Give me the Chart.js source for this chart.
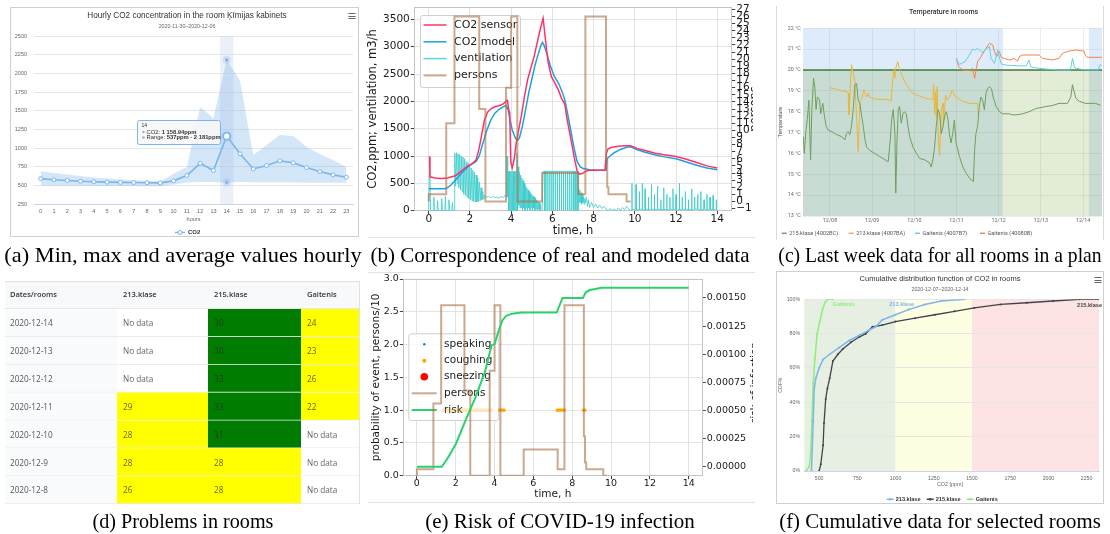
<!DOCTYPE html>
<html>
<head>
<meta charset="utf-8">
<title>Indoor climate monitoring figures</title>
<script src="https://cdn.jsdelivr.net/npm/chart.js@4.4.1/dist/chart.umd.min.js"></script>
<style>
  html, body { margin: 0; padding: 0; background: #fff; }
  body { position: relative; width: 1110px; height: 534px; overflow: hidden; }
  .abs { position: absolute; display: block; }
  .frame { position: absolute; box-sizing: border-box; pointer-events: none; }
  .cap { position: absolute; transform: translateX(-50%); white-space: nowrap;
         font-family: "Liberation Serif", "Times New Roman", serif; font-size: 21px; line-height: 21px; color: #000; }
</style>
</head>
<body>

<div class="frame" style="left:10px;top:7px;width:349px;height:230px;border:1px solid #cfcfcf;"></div>
<canvas id="chartA" class="abs" width="347" height="228" style="left:11px;top:8px"></canvas>

<canvas id="chartB" class="abs" width="388" height="240" style="left:365px;top:0px"></canvas>
<div class="frame" style="left:368px;top:237px;width:387px;height:1px;background:#e2e2e2"></div>

<div class="frame" style="left:776px;top:6px;width:328px;height:234px;border-left:1px solid #dadada;border-right:1px solid #dadada"></div>
<canvas id="chartC" class="abs" width="330" height="240" style="left:775px;top:0px"></canvas>

<canvas id="chartD" class="abs" width="355" height="223" style="left:5px;top:281px"></canvas>
<div class="frame" style="left:5px;top:281px;width:355px;height:223px;border-top:1px solid #dee2e6;border-right:1px solid #dee2e6"></div>

<canvas id="chartE" class="abs" width="388" height="245" style="left:365px;top:265px"></canvas>
<div class="frame" style="left:368px;top:272px;width:387px;height:1px;background:#e2e2e2"></div>
<div class="frame" style="left:368px;top:502px;width:387px;height:1px;background:#e2e2e2"></div>

<div class="frame" style="left:776px;top:271px;width:328px;height:233px;border:1px solid #cfcfcf"></div>
<canvas id="chartF" class="abs" width="326" height="231" style="left:777px;top:272px"></canvas>

<div class="cap" style="left:183px;top:245px;transform:translateX(-50%) scaleX(1.066)">(a) Min, max and average values hourly</div>
<div class="cap" style="left:560px;top:245px">(b) Correspondence of real and modeled data</div>
<div class="cap" style="left:940px;top:245px;transform:translateX(-50%) scaleX(0.935)">(c) Last week data for all rooms in a plan</div>
<div class="cap" style="left:183px;top:511px;transform:translateX(-50%) scaleX(0.96)">(d) Problems in rooms</div>
<div class="cap" style="left:560px;top:511px">(e) Risk of COVID-19 infection</div>
<div class="cap" style="left:940px;top:511px;transform:translateX(-50%) scaleX(0.99)">(f) Cumulative data for selected rooms</div>

<script>
// ---------- (a) hourly CO2, one week ----------
const hourLabels = ['0','1','2','3','4','5','6','7','8','9','10','11','12','13','14','15','16','17','18','19','20','21','22','23'];
const co2Avg = [590,575,565,555,548,543,540,537,535,533,560,632,795,698,1158.94,922,720,765,828,802,738,685,640,608];
const co2Min = [497,495,494,493,492,491,490,490,489,489,512,538,543,545,537,545,540,540,540,538,536,535,535,535];
const co2Max = [688,665,645,625,605,590,578,568,560,552,655,745,1548,1400,2181,1905,905,1040,1175,1162,1018,920,840,745];
const co2HourTicks = [250,500,750,1000,1250,1500,1750,2000,2250,2500];
const hoverHour = 14;

// ---------- (b) measured vs modelled CO2 ----------
const sensorT = [0,0.04,0.06,0.3,0.6,0.9,1.1,1.3,1.5,1.7,1.9,2.1,2.3,2.45,2.55,2.7,2.85,3.0,3.2,3.4,3.6,3.75,3.82,3.88,3.93,3.98,4.05,4.15,4.25,4.35,4.5,4.65,4.8,4.95,5.1,5.25,5.4,5.5,5.55,5.6,5.7,5.8,5.95,6.1,6.3,6.45,6.6,6.7,6.8,6.9,7.0,7.1,7.2,7.3,7.45,7.6,7.8,8.2,8.55,8.62,8.7,8.9,9.2,9.5,9.8,10.1,10.5,11.0,11.5,12.0,12.5,13.0,13.5,14.0];
const sensorPpm = [980,980,620,600,590,600,620,640,700,760,820,860,930,1150,1350,1650,1800,1860,1900,1920,1950,2000,2020,1850,1800,900,780,950,1250,1450,1750,2100,2400,2600,2800,3050,3300,3450,3520,3350,3000,2700,2450,2350,2200,2050,1950,1700,1500,1300,1100,900,730,670,680,720,740,740,740,1050,1130,1160,1180,1190,1190,1140,1100,1050,1020,990,940,880,820,780];
const modelT = [0,0.8,0.95,1.1,1.3,1.5,1.7,1.9,2.1,2.3,2.45,2.6,2.8,3.0,3.2,3.4,3.6,3.75,3.85,3.95,4.05,4.2,4.3,4.4,4.55,4.7,4.85,5.0,5.15,5.3,5.45,5.52,5.6,5.75,5.9,6.1,6.3,6.5,6.6,6.75,6.9,7.05,7.2,7.35,7.5,7.8,8.2,8.6,8.65,8.8,9.0,9.3,9.6,9.8,10.1,10.5,11.0,11.5,12.0,12.5,13.0,13.5,14.0];
const modelPpm = [400,400,430,480,560,650,730,800,850,900,1000,1200,1450,1650,1780,1850,1900,1920,1850,1650,1480,1330,1280,1330,1550,1850,2150,2400,2650,2850,3030,3080,3020,2850,2650,2450,2330,2150,2030,1750,1450,1150,900,800,770,750,740,740,950,1000,1060,1120,1160,1170,1120,1070,1020,980,950,890,830,780,750];

// ventilation, m3/h
const ventStartT = [0,0.03,0.06,0.09,0.22,0.25,0.28,0.4,0.43,0.46,0.6,0.63,0.66,0.78,0.81,0.84,0.95,0.98,1.01,1.12,1.15,1.18,1.24];
const ventStartV = [0,720,700,0,0,250,0,0,180,0,0,220,0,0,260,0,0,200,0,0,150,0,0];
const ventRiseT = [1.26,1.30,1.34,1.38,1.42,1.46,1.50,1.54,1.58,1.62,1.66,1.70,1.74,1.78,1.82,1.86,1.90,1.94,1.98,2.02,2.06,2.10,2.14,2.18,2.22,2.26,2.30,2.34,2.38,2.42,2.46,2.50,2.54,2.58,2.62,2.66,2.70,2.80,2.90,3.00,3.10,3.20,3.30,3.40,3.50,3.60,3.70,3.75];
const ventRiseV = [1050,450,1060,500,1040,420,1030,380,1000,350,980,300,950,280,900,250,880,220,820,200,780,180,740,170,700,160,650,160,600,170,520,180,420,200,350,210,280,240,270,230,260,240,250,230,260,240,280,250];
const ventBreakT = [3.78,3.80,3.83,3.86,3.89,3.92,3.95,3.98,4.01,4.04,4.07,4.10,4.13,4.16,4.19,4.22,4.25,4.28,4.31,4.34,4.37,4.40,4.43,4.46,4.49,4.52,4.55,4.58,4.61,4.64,4.67,4.70,4.73,4.76,4.79,4.82,4.85,4.88,4.91,4.94,4.97,5.00,5.03,5.06,5.09,5.12,5.15,5.18,5.21,5.24,5.27,5.30,5.33,5.36,5.39,5.42,5.45,5.50];
const ventBreakV = [300,1000,250,720,0,720,0,720,0,720,0,720,0,720,0,720,0,1060,0,800,100,700,50,650,50,600,0,550,50,500,0,450,50,420,0,380,50,350,0,320,50,300,0,270,50,250,0,220,30,200,0,170,30,150,0,120,0,0];
const ventPulseT = [5.55,5.635,5.64,5.65,5.735,5.74,5.75,5.835,5.84,5.85,5.935,5.94,5.95,6.035,6.04,6.05,6.135,6.14,6.15,6.235,6.24,6.25,6.335,6.34,6.35,6.435,6.44,6.45,6.535,6.54,6.55,6.635,6.64,6.65,6.735,6.74,6.75,6.835,6.84,6.85,6.935,6.94,6.95,7.035,7.04,7.05,7.135,7.14,7.15,7.235,7.24];
const ventPulseV = [720,720,0,720,720,0,720,720,0,720,720,0,720,720,0,720,720,0,720,720,0,720,720,0,720,720,0,720,720,0,720,720,0,720,720,0,720,720,0,720,720,0,720,720,0,720,720,0,720,720,0];
const ventLowT = [7.27,7.30,7.33,7.36,7.39,7.42,7.45,7.48,7.51,7.54,7.57,7.60,7.65,7.70,7.75,7.80,7.90,8.00,8.10,8.20,8.30,8.40,8.50,8.60,8.70,8.80,8.90,9.00,9.10,9.20,9.30,9.40,9.50,9.60,9.70,9.80];
const ventLowV = [400,150,380,150,330,120,300,150,250,120,220,150,250,80,200,60,150,60,120,50,100,40,80,30,0,40,0,30,0,50,10,60,20,80,30,0];
const ventTailT = [9.85,9.86,9.87,10.05,10.06,10.07,10.21,10.22,10.23,10.35,10.36,10.37,10.49,10.5,10.51,10.65,10.66,10.67,10.79,10.8,10.81,10.94,10.95,10.96,11.09,11.1,11.11,11.25,11.26,11.27,11.39,11.4,11.41,11.54,11.55,11.56,11.69,11.7,11.71,11.84,11.85,11.86,11.99,12.0,12.01,12.15,12.16,12.17,12.29,12.3,12.31,12.44,12.45,12.46,12.59,12.6,12.61,12.75,12.76,12.77,12.89,12.9,12.91,13.04,13.05,13.06,13.19,13.2,13.21,13.35,13.36,13.37,13.49,13.5,13.51,13.64,13.65,13.66,13.79,13.8,13.81,13.94,13.95,13.96,14.0];
const ventTailV = [20,500,20,30,480,10,20,350,20,30,500,20,10,400,20,30,250,20,20,480,30,10,300,20,20,450,30,20,200,10,30,420,20,20,300,20,10,250,30,20,400,20,30,300,10,20,500,20,20,250,30,10,350,20,30,200,20,20,400,10,20,250,30,30,300,20,10,350,20,20,200,30,20,300,10,30,250,20,20,280,20,10,200,20,0];

const personsT = [0,0.85,1.25,2.45,2.75,3.75,4.0,4.3,5.5,7.25,7.6,8.6,8.66,8.72,9.6,9.72,9.8];
const personsN = [0,1,11,26,13,0,16,26,0,4,1,26,6,2,1,0,0];
const timeTicks = [0,2,4,6,8,10,12,14];
const co2Ticks = [0,500,1000,1500,2000,2500,3000,3500];
const personTicks = [-1,0,1,2,3,4,5,6,7,8,9,10,11,12,13,14,15,16,17,18,19,20,21,22,23,24,25,26,27];

// ---------- (c) temperatures, day of December ----------
const k215Day = [7.37,7.39,7.43,7.46,7.50,7.54,7.57,7.61,7.64,7.67,7.70,7.75,7.78,7.83,7.86,7.91,7.96,8.04,8.16,8.28,8.35,8.39,8.43,8.47,8.51,8.55,8.59,8.63,8.67,8.71,8.75,8.79,8.83,8.87,8.94,9.06,9.18,9.30,9.38,9.43,9.46,9.50,9.54,9.56,9.59,9.62,9.65,9.69,9.73,9.77,9.81,9.85,9.89,9.97,10.05,10.13,10.24,10.36,10.40,10.44,10.48,10.52,10.56,10.60,10.64,10.68,10.72,10.76,10.80,10.83,10.87,10.91,10.95,10.99,11.07,11.15,11.23,11.31,11.40,11.43,11.46,11.50,11.54,11.58,11.62,11.66,11.70,11.74,11.78,11.83,11.87,11.94,12.02,12.09,12.25,12.33,12.41,12.57,12.72,12.88,13.12,13.28,13.43,13.63,13.71,13.75,13.79,13.83,13.91,14.06,14.30,14.42];
const k215Temp = [16.8,16.0,17.1,17.6,18.55,15.7,18.1,19.6,19.2,18.1,18.7,18.6,17.9,18.4,17.9,17.3,17.1,17.05,16.9,16.8,16.65,16.95,17.05,16.9,17.3,18.1,19.3,19.35,18.55,18.4,17.8,17.3,16.65,16.3,16.15,16.0,15.85,15.7,15.6,16.65,17.6,18.1,16.95,14.1,16.65,18.1,18.25,17.45,17.9,18.0,17.9,17.3,16.8,16.3,16.0,15.75,15.7,15.55,15.35,15.7,16.3,17.3,18.1,17.9,16.95,17.3,17.8,18.0,17.6,16.95,16.5,16.95,17.6,16.5,15.85,15.35,15.05,14.8,14.65,16.15,16.95,17.3,18.25,18.7,18.55,18.1,18.9,19.1,19.2,19.1,18.7,18.25,18.0,17.9,17.9,17.85,17.85,17.9,18.0,18.15,18.25,18.3,18.4,18.4,18.7,19.3,18.95,18.65,18.5,18.4,18.4,18.3];
const k213Day = [8.00,8.16,8.28,8.39,8.43,8.45,8.51,8.55,8.59,8.61,8.67,8.71,8.75,8.80,8.87,8.91,8.94,9.10,9.30,9.42,9.45,9.48,9.51,9.54,9.56,9.61,9.65,9.72,9.77,9.85,9.93,10.05,10.20,10.36,10.44,10.46,10.48,10.50,10.52,10.54,10.57,10.60,10.64,10.68,10.69,10.74,10.78,10.83,10.90,10.95,11.03,11.15,11.31,11.50,11.52];
const k213Temp = [19.15,19.07,19.0,18.96,18.9,17.85,20.25,19.85,19.5,18.55,16.1,18.55,18.6,19.05,18.7,18.9,18.7,18.6,18.6,18.55,18.5,19.35,20.0,19.6,20.1,20.4,20.0,19.7,19.45,19.2,18.95,18.8,18.7,18.6,18.6,19.3,17.9,18.95,17.75,19.2,16.65,15.9,18.1,18.4,17.3,18.8,18.55,18.7,19.05,18.8,18.65,18.5,18.4,18.4,17.8];
const gaitB7Day = [11.00,11.07,11.20,11.30,11.38,11.43,11.50,11.55,11.62,11.70,11.78,11.82,11.90,11.98,12.02,12.06,12.15,12.30,12.50,12.65,12.72,12.76,12.90,13.10,13.43,13.70,13.75,13.80,14.00,14.36,14.40,14.44];
const gaitB7Temp = [20.5,20.27,20.4,20.7,21.0,20.95,21.04,20.95,20.85,21.0,21.12,20.56,20.32,20.96,20.56,20.3,20.24,20.22,20.2,20.2,20.48,20.16,20.1,20.05,20.0,20.0,20.56,20.1,20.02,20.0,20.24,20.24];
const gait0BDay = [11.00,11.05,11.15,11.31,11.38,11.43,11.50,11.58,11.70,11.78,11.86,11.90,11.95,12.02,12.06,12.13,12.25,12.37,12.45,12.49,12.57,12.88,12.96,13.04,13.28,13.43,13.51,13.67,13.83,14.02,14.06,14.09,14.45];
const gait0BTemp = [20.56,20.16,20.0,19.97,20.08,19.6,20.4,20.64,21.04,21.28,21.2,20.88,20.64,20.88,20.6,20.56,20.48,20.55,20.43,20.64,20.72,20.72,20.72,20.56,20.48,20.56,20.8,20.91,20.96,20.91,20.69,20.61,20.61];
const dayTicks = [8,9,10,11,12,13,14];
const dayLabels = ['12/08','12/09','12/10','12/11','12/12','12/13','12/14'];
const tempTicks = [13,14,15,16,17,18,19,20,21,22];
const tempThreshold = 20;
const regionStart = [7.36, 14.14];
const regionEnd = [12.1, 14.45];

// ---------- (d) problem table ----------
const tableHeader = 'Dates/rooms';
const tableRooms = ['213.klase','215.klase','Gaitenis'];
const tableDates = ['2020-12-14','2020-12-13','2020-12-12','2020-12-11','2020-12-10','2020-12-9','2020-12-8'];
const room213 = [null,null,null,29,28,28,26];
const room215 = [30,30,33,33,31,28,28];
const roomGait = [24,23,26,22,null,null,null];

// ---------- (e) infection risk ----------
const riskT = [0,1.28,1.6,2.0,2.5,3.0,3.5,3.85,4.0,4.2,4.4,4.6,4.9,5.4,7.2,7.5,8.55,8.7,8.9,9.2,9.5,14];
const riskV = [0,0,0.00008,0.0002,0.00041,0.00061,0.00084,0.00108,0.00109,0.0012,0.0013,0.00134,0.00136,0.00137,0.00137,0.0015,0.0015,0.00155,0.00157,0.00158,0.00159,0.00159];
const coughLowStart = [1.3];
const coughLowEnd = [3.9];
const coughStart = [4.25,7.22,8.58];
const coughEnd = [4.5,7.6,8.66];
const eventLevel = 1.0;
const probTicks = [0,0.5,1,1.5,2,2.5,3];
const riskTicks = [0,0.00025,0.0005,0.00075,0.001,0.00125,0.0015];

// ---------- (f) CDF of CO2 ----------
const cdf213Ppm = [450,461,468,478,500,526,569,633,698,762,827,870,913,999,1085,1192,1300,1451];
const cdf213Pct = [0,29,48,54,60,65,68,72,76,79,82,84,88,91,94,97,99,100];
const cdf215Ppm = [500,511,526,532,543,554,569,590,623,655,709,762,805,849,913,999,1128,1257,1386,1515,1687,1859,2031,2203,2332];
const cdf215Pct = [0,4,15,28,42,48,54,64,68,71,75,78,80,84,85,87,89,91,93,95,97,98,99,100,100];
const cdfGaitPpm = [414,435,444,453,461,472,487,504,522,537,558,590];
const cdfGaitPct = [0,2.5,9,29,51,65,80,87,94,98,100,100];
const co2Zones = [1000, 1500];
const ppmTicks = [500,750,1000,1250,1500,1750,2000,2250];
const pctTicks = [0,20,40,60,80,100];

// ---------- shared helpers ----------
Chart.defaults.animation = false;
Chart.defaults.responsive = false;
Chart.defaults.maintainAspectRatio = false;
Chart.defaults.events = [];
Chart.defaults.plugins.legend.display = false;
Chart.defaults.plugins.tooltip.enabled = false;
Chart.defaults.elements.line.tension = 0;
Chart.defaults.elements.point.radius = 0;

const pts = (xs, ys, k = 1) => xs.map((x, i) => ({ x: x, y: ys[i] == null ? null : ys[i] * k }));
const segs = (s, e, y) => s.flatMap((a, i) => [{ x: a, y: y }, { x: e[i], y: y }, { x: e[i], y: null }]);
const fixW = w => s => { s.width = w; };
const fixH = h => s => { s.height = h; };
const useTicks = vals => s => { s.ticks = vals.map(v => ({ value: v })); };
const hcFont = '"Liberation Sans", Arial, sans-serif';
const mpl = '"DejaVu Sans"';

function put(ctx, s, x, y, font, color, align, rot) {
  ctx.save();
  ctx.font = font;
  ctx.fillStyle = color;
  ctx.textAlign = align || 'center';
  ctx.textBaseline = 'middle';
  ctx.translate(x, y);
  if (rot) ctx.rotate(rot);
  ctx.fillText(s, 0, 0);
  ctx.restore();
}

function burger(ctx, x, y) {
  ctx.save();
  ctx.strokeStyle = '#666';
  ctx.lineWidth = 1;
  [-2.5, 0, 2.5].forEach(dy => {
    ctx.beginPath();
    ctx.moveTo(x - 3.5, Math.round(y + dy) + 0.5);
    ctx.lineTo(x + 3.5, Math.round(y + dy) + 0.5);
    ctx.stroke();
  });
  ctx.restore();
}

function rich(ctx, x, y, parts, size) {
  let cx = x;
  parts.forEach(p => {
    ctx.font = (p[1] ? 'bold ' : '') + size + 'px ' + hcFont;
    ctx.fillStyle = '#333';
    ctx.textAlign = 'left';
    ctx.textBaseline = 'middle';
    ctx.fillText(p[0], cx, y);
    cx += ctx.measureText(p[0]).width;
  });
}

const spaced = v => {
  const [i, d] = String(v).split('.');
  return i.replace(/\B(?=(\d{3})+(?!\d))/g, ' ') + (d ? '.' + d : '');
};

function mplFrame(chart) {
  const a = chart.chartArea, ctx = chart.ctx;
  ctx.save();
  ctx.strokeStyle = '#c4c4c4';
  ctx.lineWidth = 1;
  ctx.beginPath();
  ctx.moveTo(a.left, Math.round(a.top) + 0.5);
  ctx.lineTo(a.right, Math.round(a.top) + 0.5);
  ctx.stroke();
  ctx.restore();
}

function mplLegendBox(ctx, x, y, w, h) {
  ctx.save();
  ctx.fillStyle = 'rgba(255,255,255,0.8)';
  ctx.strokeStyle = '#d0d0d0';
  ctx.lineWidth = 1;
  ctx.beginPath();
  ctx.roundRect(x + 0.5, y + 0.5, w, h, 2.5);
  ctx.fill();
  ctx.stroke();
  ctx.restore();
}

function legendLine(ctx, x0, x1, y, color, width) {
  ctx.save();
  ctx.strokeStyle = color;
  ctx.lineWidth = width;
  ctx.beginPath();
  ctx.moveTo(x0, y);
  ctx.lineTo(x1, y);
  ctx.stroke();
  ctx.restore();
}

function dot(ctx, x, y, r, fill, stroke, lw) {
  ctx.save();
  ctx.beginPath();
  ctx.arc(x, y, r, 0, Math.PI * 2);
  ctx.fillStyle = fill;
  ctx.fill();
  if (stroke) { ctx.strokeStyle = stroke; ctx.lineWidth = lw || 1; ctx.stroke(); }
  ctx.restore();
}

const mplTicks = (size, extra) => Object.assign({ font: { family: 'DejaVu Sans', size: size }, color: '#1a1a1a', maxRotation: 0, autoSkip: false }, extra);
const mplGrid = { color: '#e3e3e3', tickLength: 3.5, tickColor: '#444' };
const mplBorder = { color: '#c4c4c4' };

// ---------- (a) ----------
const hlA = (arr, on, off) => arr.map((v, i) => i === hoverHour ? on : off);
new Chart(document.getElementById('chartA'), {
  type: 'line',
  data: {
    labels: hourLabels,
    datasets: [
      { label: 'CO2', data: co2Avg, borderColor: '#7cb5ec', borderWidth: 1.6,
        pointRadius: hlA(co2Avg, 3.4, 2), pointBorderWidth: hlA(co2Avg, 1.6, 1),
        pointBackgroundColor: '#ffffff', pointBorderColor: '#7cb5ec' },
      { label: 'Range', data: co2Max, borderColor: 'rgba(0,0,0,0)', borderWidth: 1, fill: '+1',
        backgroundColor: 'rgba(124,181,236,0.33)', pointRadius: hlA(co2Max, 1.6, 0),
        pointBackgroundColor: '#7cb5ec', pointBorderWidth: 0 },
      { label: 'Range low', data: co2Min, borderColor: 'rgba(0,0,0,0)', borderWidth: 1, fill: false,
        pointRadius: hlA(co2Min, 1.6, 0), pointBackgroundColor: '#7cb5ec', pointBorderWidth: 0 }
    ]
  },
  options: {
    layout: { padding: { top: 28, right: 1, left: 0, bottom: 0 } },
    scales: {
      x: { offset: true, afterFit: fixH(32), grid: { display: false, drawTicks: false }, border: { color: '#ccd6eb' },
           ticks: { font: { family: hcFont, size: 5.5 }, color: '#666', padding: 3.7, maxRotation: 0, autoSkip: false } },
      y: { min: 250, max: 2500, afterBuildTicks: useTicks(co2HourTicks), afterFit: fixW(23),
           grid: { color: '#e6e6e6', drawTicks: false }, border: { display: false },
           ticks: { font: { family: hcFont, size: 5.5 }, color: '#666', padding: 7, callback: v => String(v) } }
    }
  },
  plugins: [{
    id: 'hcA',
    beforeDatasetsDraw(chart) {
      const a = chart.chartArea, ctx = chart.ctx, xs = chart.scales.x;
      const w = a.width / hourLabels.length, px = xs.getPixelForValue(hoverHour);
      ctx.save();
      ctx.fillStyle = 'rgba(204,214,235,0.4)';
      ctx.fillRect(px - w / 2, a.top, w, a.height);
      ctx.restore();
    },
    afterDatasetsDraw(chart) {
      const ctx = chart.ctx, xs = chart.scales.x, ys = chart.scales.y;
      const px = xs.getPixelForValue(hoverHour);
      [co2Max[hoverHour], co2Min[hoverHour]].forEach(v => dot(ctx, px, ys.getPixelForValue(v), 4, 'rgba(124,181,236,0.25)'));
      dot(ctx, px, ys.getPixelForValue(co2Avg[hoverHour]), 6, 'rgba(124,181,236,0.22)');
      dot(ctx, px, ys.getPixelForValue(co2Avg[hoverHour]), 3.4, '#fff', '#7cb5ec', 1.6);
    },
    afterDraw(chart) {
      const ctx = chart.ctx, xs = chart.scales.x, a = chart.chartArea;
      put(ctx, 'Hourly CO2 concentration in the room Ķīmijas kabinets', 176, 7.5, '8.2px ' + hcFont, '#333');
      put(ctx, '2020-11-30\u20132020-12-06', 176, 18.5, '5.3px ' + hcFont, '#666');
      burger(ctx, 341, 7.5);
      put(ctx, 'hours', (a.left + a.right) / 2, 211, '5.5px ' + hcFont, '#666');
      legendLine(ctx, 164, 174, 224.5, '#7cb5ec', 1.5);
      dot(ctx, 169, 224.5, 2, '#fff', '#7cb5ec', 1);
      put(ctx, 'CO2', 177, 224.5, 'bold 6px ' + hcFont, '#333', 'left');
      // tooltip
      const px = xs.getPixelForValue(hoverHour);
      const bx = Math.round(px - 90) + 0.5, by = 112.5, bw = 83, bh = 24;
      ctx.save();
      ctx.fillStyle = 'rgba(247,247,247,0.88)';
      ctx.strokeStyle = '#7cb5ec';
      ctx.lineWidth = 1;
      ctx.beginPath();
      ctx.roundRect(bx, by, bw, bh, 2);
      ctx.fill();
      ctx.stroke();
      ctx.restore();
      put(ctx, hourLabels[hoverHour], bx + 4, by + 5.5, '5px ' + hcFont, '#333', 'left');
      dot(ctx, bx + 6, by + 11.5, 1.2, '#7cb5ec');
      rich(ctx, bx + 9, by + 11.5, [['CO2: ', false], [spaced(co2Avg[hoverHour]) + 'ppm', true]], 5.8);
      dot(ctx, bx + 6, by + 17, 1.2, '#7cb5ec');
      rich(ctx, bx + 9, by + 17, [['Range: ', false], [spaced(co2Min[hoverHour]) + 'ppm - ' + spaced(co2Max[hoverHour]) + 'ppm', true]], 5.8);
    }
  }]
});

// ---------- (b) ----------
const ventT = [].concat(ventStartT, ventRiseT, ventBreakT, ventPulseT, ventLowT, ventTailT);
const ventM3h = [].concat(ventStartV, ventRiseV, ventBreakV, ventPulseV, ventLowV, ventTailV);
const colB = { sensor: '#ff3366', model: '#1e9fe3', vent: 'rgba(64,206,204,0.85)', persons: 'rgba(168,112,68,0.6)' };
new Chart(document.getElementById('chartB'), {
  type: 'line',
  data: {
    datasets: [
      { label: 'persons', data: pts(personsT, personsN), yAxisID: 'y2', stepped: 'after', borderColor: colB.persons, borderWidth: 2 },
      { label: 'CO2 sensor', data: pts(sensorT, sensorPpm), yAxisID: 'y', borderColor: colB.sensor, borderWidth: 1.5 },
      { label: 'CO2 model', data: pts(modelT, modelPpm), yAxisID: 'y', borderColor: colB.model, borderWidth: 1.5 },
      { label: 'ventilation', data: pts(ventT, ventM3h), yAxisID: 'y', borderColor: colB.vent, borderWidth: 1 }
    ]
  },
  options: {
    layout: { padding: { top: 7, left: 0, right: 0, bottom: 0 } },
    scales: {
      x: { type: 'linear', min: -0.7, max: 14.7, afterBuildTicks: useTicks(timeTicks), afterFit: fixH(29.3),
           grid: mplGrid, border: mplBorder, ticks: mplTicks(10.5, { padding: -1, callback: v => String(v) }) },
      y: { type: 'linear', position: 'left', min: 0, max: 3720, afterBuildTicks: useTicks(co2Ticks), afterFit: fixW(49.3),
           grid: mplGrid, border: mplBorder, ticks: mplTicks(10.5, { padding: 1, callback: v => String(v) }) },
      y2: { type: 'linear', position: 'right', min: -1.3, max: 27.3, afterBuildTicks: useTicks(personTicks), afterFit: fixW(21.3),
            grid: { drawOnChartArea: false, tickLength: 3.5, tickColor: '#444' }, border: mplBorder,
            ticks: mplTicks(10.5, { padding: 1, callback: v => v < 0 ? '\u2212' + (-v) : String(v) }) }
    }
  },
  plugins: [{
    id: 'mplB',
    afterDatasetDraw(chart, args) {
      if (args.index !== 1) return;
      const ctx = chart.ctx;
      mplLegendBox(ctx, 55, 15, 100, 72);
      const rows = [['CO2 sensor', colB.sensor, 1.5], ['CO2 model', colB.model, 1.5], ['ventilation', colB.vent, 1.5], ['persons', colB.persons, 2]];
      rows.forEach((r, i) => {
        const y = 25 + i * 16.8;
        legendLine(ctx, 58.5, 81.5, y, r[1], r[2]);
        put(ctx, r[0], 89, y, '11px ' + mpl, '#1a1a1a', 'left');
      });
    },
    afterDraw(chart) {
      const a = chart.chartArea, ctx = chart.ctx;
      mplFrame(chart);
      put(ctx, 'CO2,ppm; ventilation, m3/h', 8.5, (a.top + a.bottom) / 2, '11.5px ' + mpl, '#1a1a1a', 'center', -Math.PI / 2);
      put(ctx, 'time, h', (a.left + a.right) / 2, 231.5, '11.5px ' + mpl, '#1a1a1a');
      put(ctx, 'persons', 390, (a.top + a.bottom) / 2, '11.5px ' + mpl, '#1a1a1a', 'center', -Math.PI / 2);
    }
  }]
});

// ---------- (c) ----------
const colC = ['#6f9f5c', '#e9b53b', '#68cde2', '#f0854a'];
const seriesC = [
  ['215.klase (4002BC)', k215Day, k215Temp],
  ['213.klase (4007BA)', k213Day, k213Temp],
  ['Gaitenis (4007B7)', gaitB7Day, gaitB7Temp],
  ['Gaitenis (40080B)', gait0BDay, gait0BTemp]
];
new Chart(document.getElementById('chartC'), {
  type: 'line',
  data: { datasets: seriesC.map((s, i) => ({ label: s[0], data: pts(s[1], s[2]), borderColor: colC[i], borderWidth: 1 })) },
  options: {
    layout: { padding: { top: 28.3, right: 3, left: 0, bottom: 0 } },
    scales: {
      x: { type: 'linear', min: 7.36, max: 14.45, afterBuildTicks: useTicks(dayTicks), afterFit: fixH(24),
           grid: { color: 'rgba(0,0,0,0.07)', drawTicks: false }, border: { display: false },
           ticks: { font: { family: 'Roboto', size: 5.4 }, color: '#666', padding: 1.8, maxRotation: 0, autoSkip: false,
                    callback: (v, i) => dayLabels[i] } },
      y: { type: 'linear', min: 13, max: 22, afterBuildTicks: useTicks(tempTicks), afterFit: fixW(28),
           grid: { color: 'rgba(0,0,0,0.07)', drawTicks: false }, border: { display: false },
           ticks: { font: { family: 'Roboto', size: 5.4 }, color: '#666', padding: 2.3, callback: v => v + ' °C' } }
    }
  },
  plugins: [{
    id: 'grafanaC',
    beforeDatasetsDraw(chart) {
      const a = chart.chartArea, ctx = chart.ctx, xs = chart.scales.x, ys = chart.scales.y;
      ctx.save();
      ctx.fillStyle = 'rgba(50,130,230,0.16)';
      regionStart.forEach((s, i) => {
        const x0 = Math.max(a.left, xs.getPixelForValue(s)), x1 = Math.min(a.right, xs.getPixelForValue(regionEnd[i]));
        ctx.fillRect(x0, a.top, x1 - x0, a.height);
      });
      const yT = ys.getPixelForValue(tempThreshold);
      ctx.fillStyle = 'rgba(115,160,55,0.2)';
      ctx.fillRect(a.left, yT, a.width, a.bottom - yT);
      ctx.strokeStyle = '#3e7f38';
      ctx.lineWidth = 1.6;
      ctx.beginPath();
      ctx.moveTo(a.left, yT);
      ctx.lineTo(a.right, yT);
      ctx.stroke();
      ctx.restore();
    },
    afterDraw(chart) {
      const ctx = chart.ctx;
      put(ctx, 'Temperature in rooms', 168.5, 12.7, '500 7px Roboto', '#333');
      put(ctx, 'Temperature', 5.5, 122, '5.4px Roboto', '#555', 'center', -Math.PI / 2);
      const lx = [6.7, 73.7, 140, 205];
      seriesC.forEach((s, i) => {
        legendLine(ctx, lx[i], lx[i] + 5, 233.3, colC[i], 1.5);
        put(ctx, s[0], lx[i] + 7.5, 233.3, '5.6px Roboto', '#555', 'left');
      });
    }
  }]
});

// ---------- (d) ----------
const colEdges = [0, 112, 203, 296, 355];
const rowLabels = [tableHeader].concat(tableDates);
const roomValues = [room213, room215, roomGait];
const cellText = (c, r) => {
  if (r === 0) return c === 0 ? tableHeader : tableRooms[c - 1];
  if (c === 0) return tableDates[r - 1];
  const v = roomValues[c - 1][r - 1];
  return v == null ? 'No data' : String(v);
};
const cellColor = (c, r) => {
  if (r === 0) return '#f8f9fa';
  if (c === 0) return '#fafbfc';
  const v = roomValues[c - 1][r - 1];
  if (v == null) return '#ffffff';
  return v >= 30 ? '#007c00' : '#ffff00';
};
new Chart(document.getElementById('chartD'), {
  type: 'bar',
  data: {
    labels: rowLabels,
    datasets: [0, 1, 2, 3].map(c => ({
      label: c === 0 ? tableHeader : tableRooms[c - 1],
      data: rowLabels.map(() => [colEdges[c], colEdges[c + 1]]),
      backgroundColor: rowLabels.map((_, r) => cellColor(c, r)),
      borderColor: rowLabels.map((_, r) => r === 0 ? '#dee2e6' : 'rgba(222,226,230,0.75)'),
      borderWidth: { top: 0, right: 0, bottom: 1, left: 0 },
      borderSkipped: false,
      barPercentage: 1,
      categoryPercentage: 1,
      grouped: false
    }))
  },
  options: {
    indexAxis: 'y',
    layout: { padding: 0 },
    scales: {
      x: { type: 'linear', min: 0, max: 355, display: false },
      y: { display: false }
    }
  },
  plugins: [{
    id: 'cellText',
    afterDatasetsDraw(chart) {
      const ctx = chart.ctx;
      [0, 1, 2, 3].forEach(c => {
        chart.getDatasetMeta(c).data.forEach((el, r) => {
          const left = Math.min(el.x, el.base);
          const font = r === 0 ? '600 7.5px "Open Sans"' : '8.2px "Open Sans"';
          const color = r === 0 ? '#333' : (c === 0 ? '#555' : 'rgba(40,40,40,0.74)');
          put(ctx, cellText(c, r), left + (c === 0 ? 5 : 6), el.y + (r === 0 ? 0 : 1), font, color, 'left');
        });
      });
    }
  }]
});

// ---------- (e) ----------
const colE = { risk: '#29d26c', persons: 'rgba(168,112,68,0.6)', cough: '#ffa500', sneeze: '#ff0000', speak: '#1f77b4' };
new Chart(document.getElementById('chartE'), {
  type: 'line',
  data: {
    datasets: [
      { label: 'risk', data: pts(riskT, riskV), yAxisID: 'y2', borderColor: colE.risk, borderWidth: 2 },
      { label: 'persons', data: pts(personsT, personsN, 0.1), yAxisID: 'y', stepped: 'after', borderColor: colE.persons, borderWidth: 2 },
      { label: 'coughing (rare)', data: segs(coughLowStart, coughLowEnd, eventLevel), yAxisID: 'y', borderColor: 'rgba(255,165,0,0.25)', borderWidth: 3.5 },
      { label: 'coughing', data: segs(coughStart, coughEnd, eventLevel), yAxisID: 'y', borderColor: colE.cough, borderWidth: 3.2, borderCapStyle: 'round' },
      { label: 'sneezing', data: [], yAxisID: 'y' },
      { label: 'speaking', data: [], yAxisID: 'y' }
    ]
  },
  options: {
    layout: { padding: { top: 14, left: 0, right: 0, bottom: 0 } },
    scales: {
      x: { type: 'linear', min: -0.7, max: 14.7, afterBuildTicks: useTicks(timeTicks), afterFit: fixH(34.3),
           grid: mplGrid, border: mplBorder, ticks: mplTicks(9.5, { padding: -1.5, callback: v => String(v) }) },
      y: { type: 'linear', position: 'left', min: 0, max: 3, afterBuildTicks: useTicks(probTicks), afterFit: fixW(38.3),
           grid: mplGrid, border: mplBorder, ticks: mplTicks(9.5, { padding: 1, callback: v => v.toFixed(1) }) },
      y2: { type: 'linear', position: 'right', min: -0.0000795, max: 0.001668, afterBuildTicks: useTicks(riskTicks), afterFit: fixW(50.7),
            grid: { drawOnChartArea: false, tickLength: 3.5, tickColor: '#444' }, border: mplBorder,
            ticks: mplTicks(9.5, { padding: 1, callback: v => v.toFixed(5) }) }
    }
  },
  plugins: [{
    id: 'mplE',
    beforeDatasetsDraw(chart) {
      const ctx = chart.ctx;
      mplLegendBox(ctx, 43.3, 68.3, 90, 86.7);
      const ys = [79.3, 95.7, 111.7, 128.3, 145];
      dot(ctx, 59.3, ys[0], 1.2, colE.speak);
      dot(ctx, 59.3, ys[1], 2, colE.cough);
      dot(ctx, 59.3, ys[2], 3.8, colE.sneeze);
      legendLine(ctx, 46.7, 71.7, ys[3], colE.persons, 2);
      legendLine(ctx, 46.7, 71.7, ys[4], colE.risk, 2);
      ['speaking', 'coughing', 'sneezing', 'persons', 'risk'].forEach((t, i) => put(ctx, t, 79, ys[i], '10.5px ' + mpl, '#1a1a1a', 'left'));
    },
    afterDraw(chart) {
      const a = chart.chartArea, ctx = chart.ctx;
      mplFrame(chart);
      put(ctx, 'probability of event, persons/10', 11.7, (a.top + a.bottom) / 2, '10.5px ' + mpl, '#1a1a1a', 'center', -Math.PI / 2);
      put(ctx, 'time, h', (a.left + a.right) / 2, 229.5, '10.5px ' + mpl, '#1a1a1a');
      put(ctx, 'risk of infection, -', 390, (a.top + a.bottom) / 2, '10.5px ' + mpl, '#1a1a1a', 'center', -Math.PI / 2);
    }
  }]
});

// ---------- (f) ----------
const colF = ['#7cb5ec', '#434348', '#90ed7d'];
const seriesF = [['213.klase', cdf213Ppm, cdf213Pct], ['215.klase', cdf215Ppm, cdf215Pct], ['Gaitenis', cdfGaitPpm, cdfGaitPct]];
new Chart(document.getElementById('chartF'), {
  type: 'line',
  data: {
    datasets: seriesF.map((s, i) => ({ label: s[0], data: pts(s[1], s[2]), borderColor: colF[i], backgroundColor: colF[i],
      borderWidth: i === 1 ? 1.3 : 1.5, pointRadius: 1, pointBorderWidth: 0 }))
  },
  options: {
    layout: { padding: { top: 27.3, right: 0, left: 0, bottom: 0 } },
    scales: {
      x: { type: 'linear', min: 403, max: 2331, afterBuildTicks: useTicks(ppmTicks), afterFit: fixH(32),
           grid: { display: false, drawTicks: false }, border: { color: '#ccd6eb' },
           ticks: { font: { family: hcFont, size: 5.2 }, color: '#666', padding: 4.3, maxRotation: 0, autoSkip: false, callback: v => String(v) } },
      y: { type: 'linear', min: 0, max: 100, afterBuildTicks: useTicks(pctTicks), afterFit: fixW(27.3),
           grid: { color: '#e6e6e6', drawTicks: false }, border: { display: false },
           ticks: { font: { family: hcFont, size: 5.2 }, color: '#666', padding: 4.3, callback: v => v + '%' } }
    }
  },
  plugins: [{
    id: 'hcF',
    beforeDraw(chart) {
      const a = chart.chartArea, ctx = chart.ctx, xs = chart.scales.x;
      const edges = [a.left, xs.getPixelForValue(co2Zones[0]), xs.getPixelForValue(co2Zones[1]), a.right];
      const fills = ['#e6efe2', '#fefee2', '#fde3e3'];
      ctx.save();
      fills.forEach((f, i) => { ctx.fillStyle = f; ctx.fillRect(edges[i], a.top, edges[i + 1] - edges[i], a.height); });
      ctx.restore();
    },
    afterDraw(chart) {
      const a = chart.chartArea, ctx = chart.ctx;
      put(ctx, 'Cumulative distribution function of CO2 in rooms', 163, 6.5, '7.5px ' + hcFont, '#333');
      put(ctx, '2020-12-07\u20132020-12-14', 163, 18, '5.3px ' + hcFont, '#666');
      burger(ctx, 321, 7.5);
      put(ctx, 'CO2 [ppm]', 173, 213, '5.4px ' + hcFont, '#666');
      put(ctx, 'CDF%', 4, (a.top + a.bottom) / 2, '5.2px ' + hcFont, '#666', 'center', -Math.PI / 2);
      put(ctx, 'Gaitenis', 66.6, 32, 'bold 5.6px ' + hcFont, colF[2]);
      put(ctx, '213.klase', 124.7, 32, 'bold 5.6px ' + hcFont, colF[0]);
      put(ctx, '215.klase', 325, 33.7, 'bold 5.6px ' + hcFont, colF[1], 'right');
      const lx = [109.7, 149.7, 189.7];
      seriesF.forEach((s, i) => {
        legendLine(ctx, lx[i], lx[i] + 7, 227.3, colF[i], 1.5);
        dot(ctx, lx[i] + 3.5, 227.3, 1.2, colF[i]);
        put(ctx, s[0], lx[i] + 9, 227.3, 'bold 5.6px ' + hcFont, '#333', 'left');
      });
    }
  }]
});
</script>
</body>
</html>
